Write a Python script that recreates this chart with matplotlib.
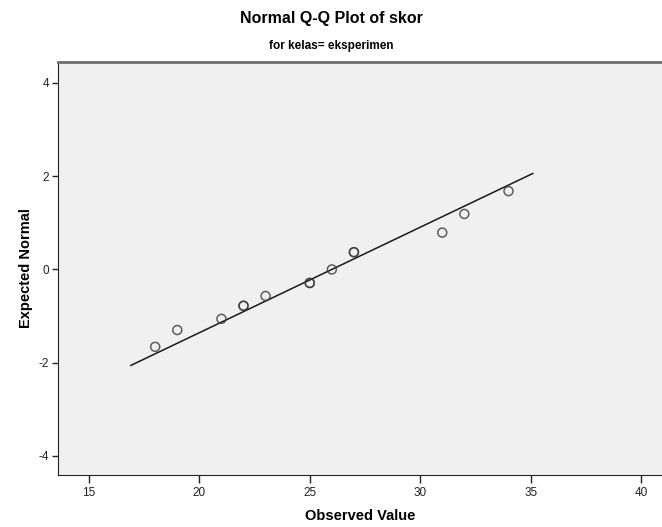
import matplotlib
matplotlib.use("Agg")
import matplotlib.pyplot as plt
import numpy as np

plt.rcParams['font.family'] = ['Liberation Sans', 'DejaVu Sans']
plt.rcParams['axes.unicode_minus'] = False

# observed scores (ties repeated) and their expected normal values
skor = [18, 19, 21, 22, 22, 23, 25, 25, 26, 27, 27, 31, 32, 34]
expected = [-1.66, -1.30, -1.06, -0.78, -0.78, -0.57, -0.29, -0.29,
            0.0, 0.37, 0.37, 0.79, 1.19, 1.68]

# reference line: y = (x - mean) / sd
line_mean = 26.0
line_sd = 4.42
line_x = [16.9, 35.1]

fig = plt.figure(figsize=(6.62, 5.27), dpi=100)
ax = fig.add_axes([58 / 662, 52 / 527, 1 - 58 / 662, 413 / 527])
ax.set_facecolor('#f0f0f0')

lx = np.array(line_x)
ax.plot(lx, (lx - line_mean) / line_sd, color='#1a1a1a', lw=1.1, zorder=2)
ax.scatter(skor, expected, s=42, facecolors='none', edgecolors='#3a3a3a',
           linewidths=1.1, alpha=0.8, zorder=3)

ax.set_xlim(13.6, 40.95)
ax.set_ylim(-4.41, 4.45)
ax.set_xticks([15, 20, 25, 30, 35, 40])
ax.set_yticks([-4, -2, 0, 2, 4])
ax.tick_params(axis='x', length=6, width=1, labelsize=8.5, colors='#222222', pad=3)
ax.tick_params(axis='y', length=4.5, width=1, labelsize=8.5, colors='#222222', pad=2)

ax.spines['right'].set_visible(False)
ax.spines['top'].set_color('#6e6e6e')
ax.spines['top'].set_linewidth(2)
ax.spines['left'].set_color('#222222')
ax.spines['bottom'].set_color('#222222')

ax.set_xlabel('Observed Value', fontsize=10.5, fontweight='bold', labelpad=7)
ax.set_ylabel('Expected Normal', fontsize=10.5, fontweight='bold', labelpad=4)

fig.text(0.5, 1 - 18 / 527, 'Normal Q-Q Plot of skor', ha='center', va='center',
         fontsize=11.5, fontweight='bold')
fig.text(0.5, 1 - 46 / 527, 'for kelas= eksperimen', ha='center', va='center',
         fontsize=8.5, fontweight='bold')

fig.savefig('out.png', dpi=100)
